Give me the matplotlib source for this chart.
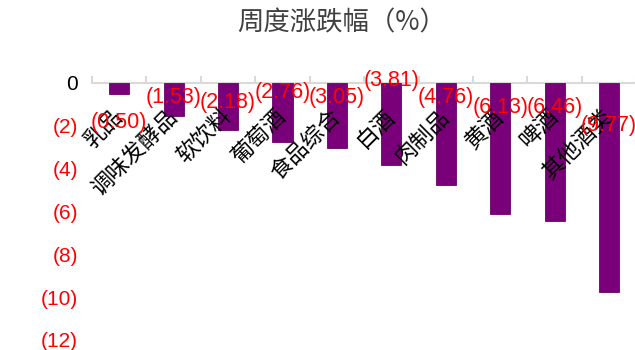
import matplotlib
matplotlib.use("Agg")
import matplotlib.pyplot as plt

categories = ["乳品", "调味发酵品", "软饮料", "葡萄酒", "食品综合", "白酒", "肉制品", "黄酒", "啤酒", "其他酒类"]
values = [-0.50, -1.53, -2.18, -2.76, -3.05, -3.81, -4.76, -6.13, -6.46, -9.77]
yticks = [0, -2, -4, -6, -8, -10, -12]
ytick_labels = ["0", "(2)", "(4)", "(6)", "(8)", "(10)", "(12)"]
title = "周度涨跌幅（%）"

# label vertical placement (data units) mimicking the original layout
label_y = [-1.85, -0.7, -0.92, -0.45, -0.7, 0.1, -0.7, -1.15, -1.15, -2.0]

CJK = ["Noto Sans CJK SC", "DejaVu Sans"]
NUM = ["Liberation Sans", "DejaVu Sans"]

fig = plt.figure(figsize=(6.35, 3.5), dpi=100)
ax = fig.add_axes([0.145, 0.029, 0.857, 0.734])

x = list(range(len(categories)))
ax.bar(x, values, width=0.37, color="#7A007A", edgecolor="#6A006A", linewidth=0.6, zorder=2)

ax.set_xlim(-0.5, len(categories) - 0.5)
ax.set_ylim(-12, 0)

for s in ["left", "right", "bottom"]:
    ax.spines[s].set_visible(False)
ax.spines["top"].set_color("#D9D9D9")
ax.spines["top"].set_linewidth(1.5)
ax.spines["top"].set_zorder(1)

# category boundary ticks on top
ax.xaxis.set_ticks_position("top")
ax.set_xticks([i - 0.5 for i in range(len(categories) + 1)])
ax.set_xticklabels([])
ax.tick_params(axis="x", which="major", direction="out", length=5, width=1.5, color="#D9D9D9")

ax.set_yticks(yticks)
ax.set_yticklabels(ytick_labels)
ax.tick_params(axis="y", length=0, pad=10)
for t, v in zip(ax.get_yticklabels(), yticks):
    t.set_fontfamily(NUM)
    t.set_fontsize(15)
    t.set_color("black" if v == 0 else "#FF0000")

# category labels
for i, c in enumerate(categories):
    ax.annotate(c, xy=(i, -1.4), xytext=(0, 0), textcoords="offset points",
                rotation=45, rotation_mode="anchor", ha="right", va="center",
                fontsize=16, family=CJK, color="black", zorder=3)

# data labels
for i, (v, ly) in enumerate(zip(values, label_y)):
    ax.text(i, ly, f"({abs(v):.2f})", ha="center", va="center",
            fontsize=15.5, family=NUM, color="#FF0000", zorder=4)

fig.text(0.538, 0.934, title, ha="center", va="center", fontsize=19, family=CJK, color="#404040")

fig.savefig("out.png", dpi=100)
